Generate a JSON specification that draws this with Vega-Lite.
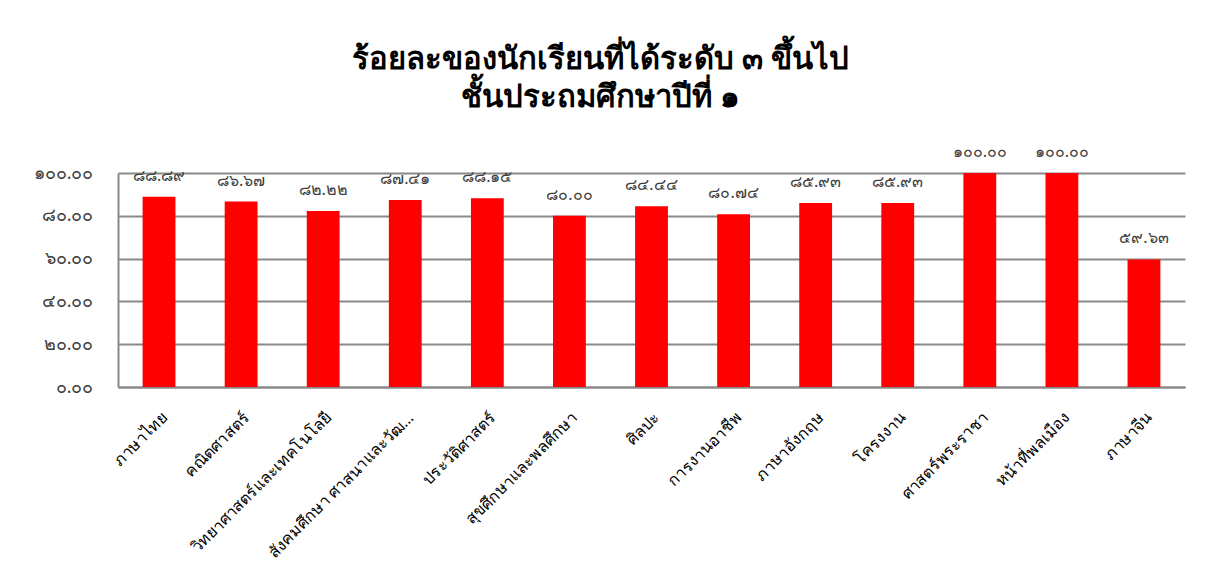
{
  "$schema": "https://vega.github.io/schema/vega-lite/v6.json",
  "width": 1067,
  "height": 214,
  "autosize": {"type": "none"},
  "padding": {"left": 118, "top": 173, "right": 23, "bottom": 192},
  "background": "white",
  "title": {
    "text": ["ร้อยละของนักเรียนที่ได้ระดับ ๓ ขึ้นไป", "ชั้นประถมศึกษาปีที่ ๑"],
    "font": "Noto Sans",
    "fontSize": 31,
    "fontWeight": "bold",
    "color": "#000000",
    "anchor": "middle",
    "dx": -51,
    "lineHeight": 38,
    "offset": 30
  },
  "data": {
    "values": [
      {"subject": "ภาษาไทย", "value": 88.89, "label": "๘๘.๘๙"},
      {"subject": "คณิตศาสตร์", "value": 86.67, "label": "๘๖.๖๗"},
      {"subject": "วิทยาศาสตร์และเทคโนโลยี", "value": 82.22, "label": "๘๒.๒๒"},
      {"subject": "สังคมศึกษา ศาสนาและวัฒนธรรม", "value": 87.41, "label": "๘๗.๔๑"},
      {"subject": "ประวัติศาสตร์", "value": 88.15, "label": "๘๘.๑๕"},
      {"subject": "สุขศึกษาและพลศึกษา", "value": 80.0, "label": "๘๐.๐๐"},
      {"subject": "ศิลปะ", "value": 84.44, "label": "๘๔.๔๔"},
      {"subject": "การงานอาชีพ", "value": 80.74, "label": "๘๐.๗๔"},
      {"subject": "ภาษาอังกฤษ", "value": 85.93, "label": "๘๕.๙๓"},
      {"subject": "โครงงาน", "value": 85.93, "label": "๘๕.๙๓"},
      {"subject": "ศาสตร์พระราชา", "value": 100.0, "label": "๑๐๐.๐๐"},
      {"subject": "หน้าที่พลเมือง", "value": 100.0, "label": "๑๐๐.๐๐"},
      {"subject": "ภาษาจีน", "value": 59.63, "label": "๕๙.๖๓"}
    ]
  },
  "encoding": {
    "x": {
      "field": "subject",
      "type": "nominal",
      "sort": null,
      "title": null,
      "scale": {"paddingInner": 0.6, "paddingOuter": 0.3},
      "axis": {
        "labelAngle": -45,
        "labelAlign": "right",
        "labelBaseline": "top",
        "labelFont": "Noto Sans",
        "labelFontSize": 16,
        "labelColor": "#000000",
        "labelPadding": 22,
        "labelLimit": 206,
        "ticks": false,
        "domainColor": "#898989",
        "domainWidth": 2,
        "grid": false
      }
    }
  },
  "layer": [
    {
      "mark": {"type": "bar", "color": "#FF0000"},
      "encoding": {
        "y": {
          "field": "value",
          "type": "quantitative",
          "title": null,
          "scale": {"domain": [0, 100]},
          "axis": {
            "values": [0, 20, 40, 60, 80, 100],
            "labelExpr": "replace(replace(replace(replace(replace(replace(format(datum.value,'.2f'),regexp('0','g'),'๐'),regexp('2','g'),'๒'),regexp('4','g'),'๔'),regexp('6','g'),'๖'),regexp('8','g'),'๘'),regexp('1','g'),'๑')",
            "labelFont": "Noto Sans",
            "labelFontSize": 18,
            "labelColor": "#404040",
            "labelPadding": 25,
            "ticks": false,
            "domainColor": "#898989",
            "domainWidth": 2,
            "gridColor": "#898989",
            "gridWidth": 2
          }
        }
      }
    },
    {
      "mark": {"type": "text", "font": "Noto Sans", "fontSize": 16, "color": "#404040", "dy": -21, "baseline": "middle"},
      "encoding": {
        "y": {"field": "value", "type": "quantitative"},
        "text": {"field": "label"}
      }
    }
  ],
  "config": {"view": {"stroke": null}}
}
